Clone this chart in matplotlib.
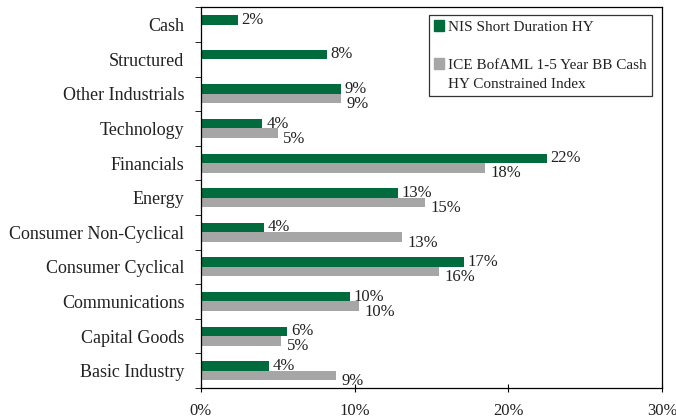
import matplotlib
matplotlib.use("Agg")
import matplotlib.pyplot as plt
import numpy as np
from matplotlib.patches import Rectangle
from matplotlib.ticker import FixedLocator, NullFormatter, PercentFormatter

categories = ["Cash", "Structured", "Other Industrials", "Technology", "Financials",
              "Energy", "Consumer Non-Cyclical", "Consumer Cyclical", "Communications",
              "Capital Goods", "Basic Industry"]
nis_values = [2.4, 8.2, 9.1, 4.0, 22.5, 12.8, 4.1, 17.1, 9.7, 5.6, 4.4]
nis_labels = ["2%", "8%", "9%", "4%", "22%", "13%", "4%", "17%", "10%", "6%", "4%"]
ice_values = [None, None, 9.1, 5.0, 18.5, 14.6, 13.1, 15.5, 10.3, 5.2, 8.8]
ice_labels = [None, None, "9%", "5%", "18%", "15%", "13%", "16%", "10%", "5%", "9%"]
series_names = ["NIS Short Duration HY", "ICE BofAML 1-5 Year BB Cash", "HY Constrained Index"]
x_ticks = [0, 10, 20, 30]

plt.rcParams['font.family'] = ['Liberation Serif', 'DejaVu Serif']
fig = plt.figure(figsize=(6.76, 4.18), dpi=100)
ax = fig.add_axes([0.2973, 0.0718, 0.682, 0.9107])

green = "#006B3C"
gray = "#A6A6A6"
h = 0.275
y = np.arange(len(categories))

ax.barh(y - h / 2, nis_values, height=h, color=green)
ice_y = [yy + h / 2 for yy, v in zip(y, ice_values) if v is not None]
ice_v = [v for v in ice_values if v is not None]
ax.barh(ice_y, ice_v, height=h, color=gray)

fs = 13
lfs = 12
for yy, v, lab in zip(y, nis_values, nis_labels):
    ax.annotate(lab, (v, yy - h / 2), xytext=(2.7, 0), textcoords="offset points",
                va="center", ha="left", fontsize=lfs, color="#222222")
for yy, v, lab in zip(y, ice_values, ice_labels):
    if v is None:
        continue
    ax.annotate(lab, (v, yy + h / 2), xytext=(4, -4), textcoords="offset points",
                va="center", ha="left", fontsize=lfs, color="#222222")

ax.set_xlim(0, 30)
ax.set_ylim(len(categories) - 0.5, -0.5)
ax.set_xticks(x_ticks)
ax.xaxis.set_major_formatter(PercentFormatter(decimals=0))
ax.set_yticks(y)
ax.set_yticklabels(categories, fontsize=fs, color="#222222")
ax.tick_params(axis="y", which="major", length=0, pad=12)
ax.yaxis.set_minor_locator(FixedLocator(np.arange(-0.5, len(categories), 1.0)))
ax.yaxis.set_minor_formatter(NullFormatter())
ax.tick_params(axis="y", which="minor", length=4, direction="out")
ax.tick_params(axis="x", length=6, direction="inout", labelsize=lfs, pad=8, labelcolor="#222222")
for s in ax.spines.values():
    s.set_color("black")
    s.set_linewidth(0.9)

handles = [Rectangle((0, 0), 1, 1, color=green),
           Rectangle((0, 0), 1, 1, visible=False),
           Rectangle((0, 0), 1, 1, color=gray),
           Rectangle((0, 0), 1, 1, visible=False)]
labels = [series_names[0], " ", series_names[1], series_names[2]]
leg = ax.legend(handles, labels, loc="upper right", bbox_to_anchor=(0.978, 0.980),
                borderaxespad=0, frameon=True, fancybox=False,
                edgecolor="black", fontsize=11, handlelength=0.65, handleheight=0.7,
                handletextpad=0.25, labelspacing=0.34, borderpad=0.35)
leg.get_frame().set_linewidth(0.9)
for t in leg.get_texts():
    t.set_color("#222222")

fig.savefig("out.png", dpi=100)
